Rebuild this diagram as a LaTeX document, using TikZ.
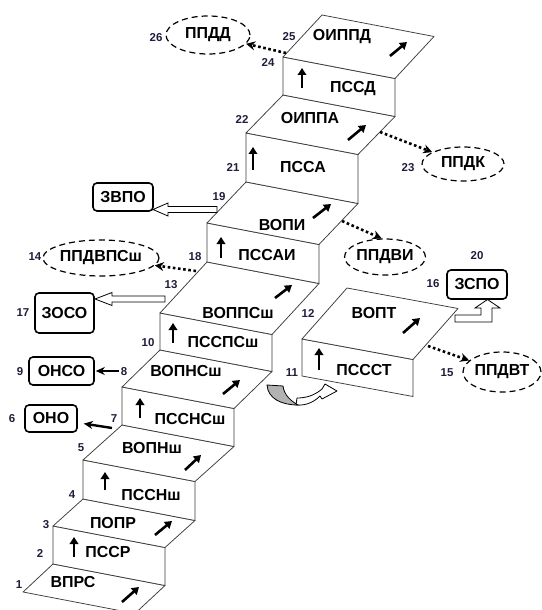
\documentclass[tikz,border=0pt]{standalone}
\usepackage{fontspec}
\setmainfont{Liberation Sans}
\usetikzlibrary{arrows.meta,calc,shapes.geometric}
\definecolor{numcol}{RGB}{30,30,60}
\definecolor{edgecol}{RGB}{60,60,60}
\begin{document}
\begin{tikzpicture}[x=1bp,y=-1bp,
  face/.style={draw=edgecol, line width=0.75bp, fill=white, line join=round},
  lbl/.style={font=\fontsize{16}{18}\selectfont\bfseries, inner sep=0},
  num/.style={font=\fontsize{11.5}{13}\selectfont\bfseries, text=numcol, inner sep=0},
  uparrow/.style={line width=2.6bp, -{Triangle[length=7bp,width=8.5bp]}},
  bx/.style={draw, line width=1.6bp, rounded corners=4bp, fill=white, font=\fontsize{16}{18}\selectfont\bfseries, inner sep=0},
  el/.style={ellipse, draw, dash pattern=on 6bp off 4bp, line width=1.2bp, inner sep=0, fill=white, font=\fontsize{16}{18}\selectfont\bfseries},
  dotarrow/.style={line width=2.6bp, dash pattern=on 2.6bp off 2.6bp, -{Stealth[length=9bp,width=9bp]}},
  solidarrow/.style={line width=2.4bp, -{Stealth[length=9bp,width=8bp]}},
  hollow/.style={draw, line width=0.8bp, fill=white, line join=miter}
]
\useasboundingbox (0,0) rectangle (542,610);
\clip (0,0) rectangle (542,610);

% staircase corner points
\coordinate (L0) at (23,592);
\coordinate (L1) at (53,564);
\coordinate (L2) at (53,526);
\coordinate (L3) at (83,499);
\coordinate (L4) at (83,460);
\coordinate (L5) at (122,425);
\coordinate (L6) at (122,387);
\coordinate (L7) at (160,350);
\coordinate (L8) at (160,313);
\coordinate (L9) at (207,262);
\coordinate (L10) at (207,223);
\coordinate (L11) at (246,182);
\coordinate (L12) at (246,133);
\coordinate (L13) at (283,95);
\coordinate (L14) at (283,57);
\coordinate (L15) at (322,15);
\coordinate (D) at (112,21.5);

\foreach \a/\b in {0/1,1/2,2/3,3/4,4/5,5/6,6/7,7/8,8/9,9/10,10/11,11/12,12/13,13/14,14/15}
  \draw[face] (L\a) -- (L\b) -- ($(L\b)+(D)$) -- ($(L\a)+(D)$) -- cycle;

% separate step
\coordinate (S0) at (302,376);
\coordinate (S1) at (302,339);
\coordinate (S2) at (347,288);
\coordinate (E) at (111,20.5);
\draw[face] (S0) -- (S1) -- ($(S1)+(E)$) -- ($(S0)+(E)$) -- cycle;
\draw[face] (S1) -- (S2) -- ($(S2)+(E)$) -- ($(S1)+(E)$) -- cycle;

% step texts
\node[lbl] (t1) at (73,582) {ВПРС};
\node[lbl] (t2) at (108,552) {ПССР};
\node[lbl] (t3) at (113,523) {ПОПР};
\node[lbl] (t4) at (151,495) {ПССНш};
\node[lbl] (t5) at (152,448) {ВОПНш};
\node[lbl] (t6) at (190,419) {ПССНСш};
\node[lbl] (t7) at (186,371) {ВОПНСш};
\node[lbl] (t8) at (223,342) {ПССПСш};
\node[lbl] (t9) at (238,313) {ВОППСш};
\node[lbl] (t10) at (267,255) {ПССАИ};
\node[lbl] (t11) at (282,225) {ВОПИ};
\node[lbl] (t12) at (303,167) {ПССА};
\node[lbl] (t13) at (310,118) {ОИППА};
\node[lbl] (t14) at (353,89) {ПССД};
\node[lbl] (t15) at (342,37) {ОИППД};
\node[lbl] (tA) at (374,313) {ВОПТ};
\node[lbl] (tB) at (364,370) {ПСССТ};

% diagonal arrows on treads
\foreach \p/\q in {{(122,602)}/{(139,587)}, {(155,535)}/{(172,521)}, {(185,470)}/{(201,455)},
  {(223,394)}/{(240,380)}, {(275,298)}/{(292,285)}, {(313,218)}/{(331,204)},
  {(348,140)}/{(366,125)}, {(390,56)}/{(407,42)}, {(403,333)}/{(420,318)}}
  \draw[uparrow] \p -- \q;
% up arrows on risers
\foreach \x/\ya/\yb in {74/557/537, 105/490/472, 140/418/398, 173/343/323, 221/258/237, 253/170/147, 302/88/68, 319/370/348}
  \draw[uparrow] (\x,\ya) -- (\x,\yb);

% numbers
\foreach \n/\x/\y in {1/19/585, 2/40/553, 3/46/525, 4/72/495, 5/81/448, 6/12/419, 7/114/419, 8/124/372,
  9/20/372, 10/148/343, 11/292/373, 12/308/313, 13/171/285, 14/35/257, 15/447/373, 16/433/284,
  17/23/313, 18/195/257, 19/219/197, 20/477/256, 21/233/168, 22/242/120, 23/408/168, 24/268/63,
  25/289/37, 26/156/38}
  \node[num] (n\n) at (\x,\y) {\n};

% boxes
\node[bx, minimum width=52bp, minimum height=27bp] (ono) at (51,418.5) {ОНО};
\node[bx, minimum width=65bp, minimum height=28bp] (onso) at (61.5,371) {ОНСО};
\node[bx, minimum width=59bp, minimum height=40bp] (zoso) at (64.5,313) {ЗОСО};
\node[bx, minimum width=60bp, minimum height=28bp] (zvpo) at (123,197) {ЗВПО};
\node[bx, minimum width=60bp, minimum height=29bp] (zspo) at (477,284.5) {ЗСПО};

% ellipses
\node[el, minimum width=98bp, minimum height=36bp] (ppdvpsh) at (101,258) {ППДВПСш};
\node[el, minimum width=80bp, minimum height=36bp] (ppdvi) at (385,257) {ППДВИ};
\node[el, minimum width=82bp, minimum height=34bp] (ppdk) at (463,164) {ППДК};
\node[el, minimum width=84bp, minimum height=38bp] (ppdd) at (208,35) {ППДД};
\node[el, minimum width=78bp, minimum height=40bp] (ppdvt) at (502,372) {ППДВТ};

% solid arrows
\coordinate (c7) at (112,428);
\coordinate (c8) at (119,371);
\draw[solidarrow, shorten >=6bp] (c7) -- (ono);
\draw[solidarrow, shorten >=1bp] (c8) -- (onso);

% dotted arrows
\coordinate (c13) at (196,271);
\coordinate (cvopi) at (342,221);
\coordinate (coippa) at (380,132);
\coordinate (coippd) at (286,53);
\coordinate (cvopt) at (428,346);
\draw[dotarrow] (c13) -- (ppdvpsh);
\draw[dotarrow] (cvopi) -- (ppdvi.100);
\draw[dotarrow] (coippa) -- (ppdk);
\draw[dotarrow] (coippd) -- (ppdd);
\draw[dotarrow] (cvopt) -- (ppdvt);

% hollow block arrows
\draw[hollow] (95,299) -- (112,292.5) -- (112,296) -- (165,296) -- (165,302) -- (112,302) -- (112,305.5) -- cycle;
\draw[hollow] (153,209.5) -- (168,203) -- (168,206.5) -- (217,206.5) -- (217,212.5) -- (168,212.5) -- (168,216) -- cycle;
\draw[hollow] (455,315) -- (481,315) -- (481,308) -- (475,308) -- (487.5,299.5) -- (500,308) -- (492,308) -- (492,322) -- (455,322) -- cycle;

% curved arrow
\draw[hollow, line join=round] (296,405) .. controls (307,406) and (315,401) .. (320,396) -- (322,399) -- (337,391) -- (325,384) -- (322,389) .. controls (314,396) and (305,398) .. (297,398) -- cycle;
\draw[draw, line width=0.8bp, fill=black!30] (267,385) .. controls (268,399) and (282,405) .. (298,405) .. controls (291,401) and (284,395) .. (283,386) -- cycle;
\end{tikzpicture}
\end{document}
